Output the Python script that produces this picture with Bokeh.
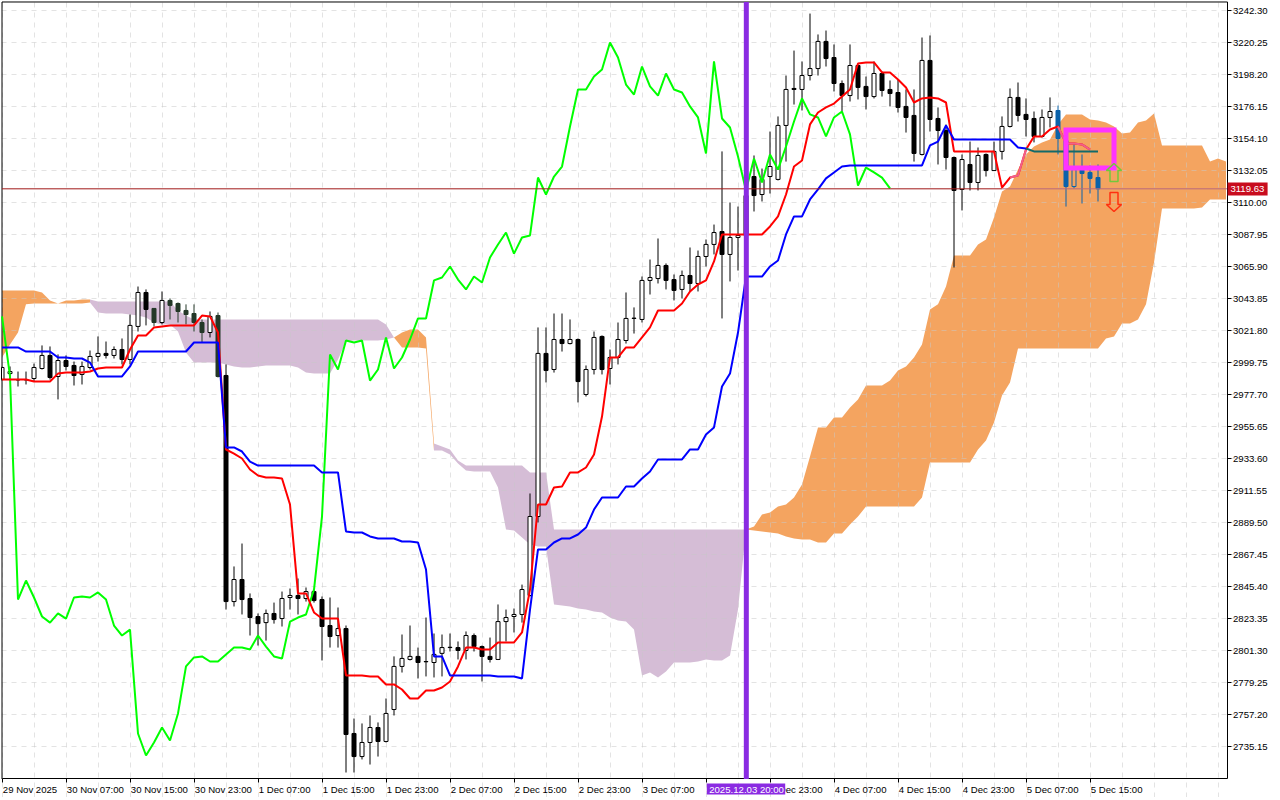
from bokeh.plotting import figure
from bokeh.models import Range1d, FixedTicker, NumeralTickFormatter
from bokeh.core.properties import value
from bokeh.embed import file_html
from bokeh.resources import INLINE

opens = [
2988.2,2992.3,2988.2,2988.2,2988.9,2995.8,3004.8,2990.3,3001.3,2997.9,
2991.7,2996.5,3004.1,3006.2,3004.8,3008.9,3002.0,3024.8,3048.2,3037.2,
3027.5,3042.7,3040.6,3035.8,3033.7,3027.5,3020.6,3032.3,2991.0,2835.2,
2850.4,2837.3,2824.9,2820.7,2827.0,2823.5,2838.0,2839.4,2837.3,2842.1,
2836.6,2818.7,2811.8,2816.6,2744.3,2728.4,2738.1,2748.4,2738.8,2760.8,
2790.5,2795.3,2797.4,2793.9,2793.2,2799.5,2803.5,2803.5,2801.5,2811.8,
2804.2,2797.4,2795.3,2821.4,2824.9,2826.3,2839.4,2893.8,3006.2,2995.1,
3015.8,3013.0,3015.8,2977.9,2995.1,3017.9,2995.8,3003.4,3015.1,3030.3,
3029.6,3056.5,3057.8,3066.8,3057.1,3050.3,3059.9,3054.4,3073.0,3081.3,
3090.2,3074.4,3086.1,3087.5,3128.1,3115.7,3128.1,3126.1,3163.3,3188.8,
3188.1,3197.7,3202.5,3221.2,3210.1,3192.2,3183.9,3204.6,3190.2,3183.2,
3199.1,3188.1,3186.0,3176.4,3170.2,3143.3,3208.1,3168.1,3159.8,3141.2,
3119.2,3136.4,3124.0,3143.3,3132.2,3145.4,3162.6,3182.6,3170.9,3168.1,
3155.7,3168.8,3173.6,3152.9,3121.2,3132.9,3130.9,3127.4]

closes = [
2996.5,2993.7,2987.9,2988.0,2996.5,3004.8,2989.6,3001.3,2997.2,2991.0,
2997.2,3004.1,3006.2,3004.8,3008.9,3002.0,3025.5,3048.2,3036.5,3027.5,
3042.7,3039.3,3035.1,3033.0,3027.5,3020.6,3031.7,2990.3,2835.2,2850.4,
2836.6,2824.2,2820.0,2827.0,2822.8,2837.3,2839.4,2837.3,2842.1,2835.9,
2818.0,2811.1,2816.6,2743.6,2728.4,2738.1,2748.4,2738.8,2758.1,2790.5,
2796.0,2797.4,2793.2,2793.7,2798.8,2803.5,2803.7,2801.5,2811.8,2804.2,
2797.4,2795.3,2821.4,2824.2,2826.3,2843.5,2893.8,3006.2,2994.4,3015.8,
3013.0,3015.8,2986.8,2995.1,3017.2,2995.1,3003.4,3015.8,3030.3,3030.5,
3056.5,3058.5,3066.8,3056.5,3049.6,3059.9,3054.4,3073.0,3081.3,3089.5,
3074.4,3086.1,3087.5,3115.0,3115.0,3126.1,3135.0,3163.3,3188.1,3188.1,
3197.7,3202.5,3221.2,3209.4,3192.2,3183.9,3204.6,3189.5,3183.2,3199.1,
3187.4,3185.3,3175.7,3168.8,3144.0,3208.1,3167.4,3159.8,3141.2,3118.5,
3139.8,3124.0,3142.6,3132.2,3145.4,3162.6,3182.6,3170.2,3167.4,3155.7,
3168.8,3172.9,3154.3,3121.2,3132.9,3130.2,3126.8,3119.63]

highs = [
2997.0,2997.2,2993.7,2993.7,2999.2,3011.7,3011.0,3005.5,3004.8,3000.6,
3000.6,3008.2,3017.9,3014.4,3011.0,3016.5,3033.0,3052.3,3050.3,3037.4,
3048.9,3044.1,3041.3,3040.0,3040.0,3029.6,3035.1,3034.4,2998.6,2859.4,
2875.2,2840.8,2827.0,2829.7,2834.5,2842.1,2844.2,2851.1,2844.9,2843.5,
2838.7,2838.0,2831.1,2818.7,2754.6,2751.2,2756.7,2751.9,2768.4,2797.4,
2812.5,2818.7,2803.5,2824.2,2813.2,2812.5,2813.2,2807.7,2814.6,2813.2,
2804.9,2810.4,2833.2,2829.7,2830.4,2846.9,2909.7,3024.1,3024.1,3033.7,
3033.7,3029.6,3016.5,2997.9,3021.3,3018.6,3008.9,3027.5,3048.2,3037.9,
3059.2,3070.9,3085.4,3068.2,3060.6,3063.3,3079.2,3077.1,3084.7,3095.0,
3145.4,3110.2,3107.4,3119.2,3142.6,3133.6,3159.1,3169.5,3197.7,3214.9,
3207.4,3240.4,3226.0,3228.7,3219.1,3194.3,3219.1,3205.3,3197.0,3207.4,
3200.5,3194.3,3195.0,3188.1,3188.1,3223.9,3225.3,3175.7,3164.0,3141.9,
3143.3,3152.2,3148.1,3144.0,3152.2,3169.5,3188.8,3192.9,3181.9,3172.9,
3174.3,3182.6,3177.0,3155.0,3150.2,3143.3,3135.7,3136.4]

lows = [
2987.5,2988.2,2983.4,2984.8,2986.8,2995.1,2988.2,2974.5,2994.4,2984.1,
2984.8,2995.1,3000.6,3002.7,3002.7,2998.6,2998.6,3021.3,3025.5,3024.8,
3026.2,3029.6,3027.5,3026.2,3021.3,3013.7,3017.2,2989.6,2829.7,2831.8,
2826.3,2811.8,2804.9,2808.3,2820.0,2818.0,2829.7,2826.3,2835.2,2834.5,
2794.6,2803.5,2803.5,2717.4,2717.4,2726.4,2722.9,2728.4,2738.1,2756.7,
2786.3,2794.6,2782.2,2783.6,2782.9,2783.6,2800.8,2795.3,2795.3,2800.8,
2780.1,2793.2,2794.9,2807.7,2813.9,2820.7,2838.7,2889.7,2986.2,2993.0,
3007.5,3012.4,2972.4,2976.5,2991.7,2991.7,2984.8,2998.6,3013.0,3019.9,
3027.5,3046.8,3054.4,3050.3,3042.7,3044.1,3048.9,3048.9,3066.1,3074.4,
3030.3,3055.8,3063.3,3084.7,3104.0,3110.9,3116.4,3125.4,3138.4,3177.7,
3173.6,3194.3,3197.7,3203.9,3186.7,3172.9,3179.8,3181.2,3174.3,3181.9,
3183.2,3176.4,3172.2,3158.4,3138.4,3142.6,3159.1,3136.4,3132.9,3065.4,
3104.7,3118.5,3118.5,3128.1,3131.9,3139.8,3161.9,3166.0,3155.7,3151.6,
3155.0,3161.9,3143.3,3107.4,3119.9,3109.5,3116.4,3110.9]

tenkan = [
2988.2,2988.2,2988.2,2988.2,2986.8,2986.8,2986.8,2992.3,2993.0,2993.0,
2993.0,2993.7,2995.8,2996.5,2996.5,2996.5,3008.9,3018.6,3018.6,3024.1,
3024.8,3025.5,3025.5,3025.5,3025.5,3032.3,3031.7,3020.6,2940.0,2937.2,
2933.8,2926.2,2922.1,2920.7,2920.7,2920.0,2902.1,2840.8,2840.8,2827.7,
2823.5,2823.5,2823.5,2784.3,2784.3,2784.3,2783.6,2783.6,2778.1,2778.1,
2774.6,2768.4,2768.4,2773.9,2773.9,2776.0,2780.1,2790.5,2803.5,2803.5,
2802.2,2802.2,2807.0,2807.0,2807.0,2813.9,2843.5,2902.1,2902.1,2913.8,
2914.5,2924.2,2924.2,2927.6,2936.5,2962.7,3003.4,3003.4,3010.3,3010.3,
3017.2,3024.1,3035.8,3035.8,3035.8,3040.6,3048.9,3053.7,3056.5,3069.6,
3088.2,3088.2,3088.2,3088.2,3088.2,3088.2,3093.7,3100.6,3115.7,3135.0,
3139.1,3164.0,3172.2,3175.7,3178.4,3183.2,3188.1,3206.0,3206.7,3206.7,
3199.8,3199.8,3195.0,3189.5,3179.1,3181.9,3182.6,3181.9,3179.1,3145.4,
3145.4,3145.4,3145.4,3145.4,3145.4,3120.5,3127.4,3128.8,3146.7,3155.7,
3155.7,3160.5,3162.6,3150.9,3150.9,3150.2,3146.7]

kijun = [
3010.3,3010.3,3010.3,3007.5,3007.5,3007.5,3007.5,3003.4,3003.4,3002.7,
3002.7,2999.9,2990.3,2990.3,2990.3,2990.3,2997.2,3007.5,3007.5,3007.5,
3007.5,3007.5,3007.5,3007.5,3013.7,3013.7,3013.7,3013.7,2941.4,2941.4,
2938.6,2931.7,2928.9,2928.9,2928.9,2928.9,2928.9,2928.9,2928.9,2928.9,
2924.2,2924.2,2924.2,2883.5,2882.8,2882.8,2880.1,2878.7,2878.7,2878.7,
2876.6,2876.6,2875.9,2857.3,2797.4,2797.4,2784.3,2784.3,2784.3,2784.3,
2784.3,2784.3,2783.6,2783.6,2783.6,2782.2,2829.7,2871.1,2871.1,2875.9,
2878.7,2878.7,2881.4,2886.2,2898.6,2906.9,2906.9,2906.9,2914.5,2914.5,
2920.0,2924.8,2933.1,2933.1,2933.1,2933.1,2940.0,2940.0,2950.3,2955.2,
2983.4,2992.3,3020.6,3059.2,3059.2,3059.2,3066.1,3070.2,3088.2,3100.6,
3100.6,3112.3,3119.2,3126.8,3130.9,3135.0,3135.7,3135.7,3135.7,3135.7,
3135.7,3135.7,3135.7,3135.7,3135.7,3135.7,3149.5,3152.2,3163.3,3153.6,
3153.6,3153.6,3153.6,3153.6,3153.6,3153.6,3153.6,3148.1,3147.4,3145.4,
3145.4,3145.4,3145.4,3145.4,3145.4,3145.4,3145.4,3145.4]

chikou = [
3031.7,2990.3,2836.6,2849.7,2838.0,2824.9,2820.7,2827.0,2823.5,2838.0,
2838.7,2838.0,2841.5,2836.6,2818.7,2811.8,2815.9,2744.3,2729.1,2738.1,
2748.4,2739.4,2758.1,2790.5,2796.7,2797.4,2793.9,2793.9,2798.8,2803.5,
2803.5,2802.2,2811.8,2804.2,2797.4,2796.0,2821.4,2824.2,2826.3,2843.5,
2893.8,3005.5,2995.1,3015.1,3013.7,3015.1,2987.5,2995.1,3017.2,2995.8,
3003.4,3015.8,3030.3,3030.3,3056.5,3058.5,3066.1,3057.1,3050.3,3059.2,
3055.1,3072.3,3081.3,3089.5,3075.0,3086.1,3087.5,3127.4,3115.7,3128.1,
3135.0,3162.6,3188.1,3188.1,3197.0,3201.9,3220.5,3210.1,3191.5,3184.6,
3203.9,3190.2,3183.9,3199.1,3188.1,3186.0,3176.4,3168.8,3144.0,3207.4,
3168.1,3161.9,3141.9,3118.5,3140.5,3124.0,3143.3,3132.9,3148.8,3166.0,
3181.9,3170.9,3168.8,3155.7,3168.8,3172.9,3157.1,3121.9,3134.3,3130.9,
3127.4,3119.9]

cloud_upper = [
3049.6,3049.6,3049.6,3049.6,3049.6,3048.2,3042.7,3040.6,3042.7,3042.7,
3043.4,3043.4,3042.0,3042.0,3042.0,3042.0,3042.0,3042.0,3042.0,3042.0,
3042.0,3042.0,3035.8,3032.3,3029.6,3029.6,3029.6,3029.6,3029.6,3029.6,
3029.6,3029.6,3029.6,3029.6,3029.6,3029.6,3029.6,3029.6,3029.6,3029.6,
3029.6,3029.6,3029.6,3029.6,3029.6,3029.6,3029.6,3029.6,3026.2,3017.2,
3020.6,3022.7,3022.7,3017.2,2944.1,2942.1,2940.0,2932.4,2928.9,2928.9,
2928.9,2928.9,2928.9,2928.9,2928.9,2928.9,2924.2,2924.2,2924.2,2884.9,
2884.9,2884.9,2884.9,2884.9,2884.9,2884.9,2884.9,2884.9,2884.9,2884.9,
2884.9,2884.9,2884.9,2884.9,2884.9,2884.9,2884.9,2884.9,2884.9,2884.9,
2884.9,2884.9,2884.9,2884.9,2886.9,2895.2,2896.6,2900.7,2902.1,2906.9,
2915.9,2935.2,2955.2,2955.2,2962.1,2962.1,2968.9,2974.5,2984.1,2984.1,
2984.1,2987.5,2994.4,2997.2,3003.4,3012.4,3036.5,3040.0,3052.3,3073.7,
3073.7,3073.7,3081.3,3084.7,3099.9,3117.8,3121.2,3132.9,3143.3,3148.8,
3151.6,3153.6,3164.0,3170.9,3170.9,3170.9,3167.4,3166.7,3165.3,3162.6,
3157.8,3158.5,3165.3,3166.7,3171.5,3149.5,3149.5,3149.5,3149.5,3149.5,
3149.5,3138.5,3140.5,3138.5]

cloud_lower = [
3003.4,3012.4,3020.6,3040.0,3040.6,3040.6,3040.6,3040.6,3040.6,3040.6,
3040.6,3041.3,3034.4,3033.7,3033.7,3033.7,3033.0,3032.3,3030.9,3027.5,
3026.2,3026.2,3021.3,3006.9,2999.9,2999.9,2999.9,2999.9,2998.6,2997.2,
2996.5,2996.5,2997.2,2997.9,2997.9,2997.9,2997.9,2996.5,2993.0,2992.3,
2992.3,2992.3,3002.0,3014.4,3015.1,3015.1,3015.1,3015.1,3015.8,3017.2,
3010.3,3010.3,3010.3,3009.6,2939.3,2939.3,2936.5,2930.3,2925.5,2924.8,
2924.8,2924.8,2913.8,2884.9,2884.2,2879.4,2874.5,2873.2,2873.2,2833.2,
2832.5,2831.8,2830.4,2829.7,2828.4,2827.7,2824.2,2822.1,2821.4,2815.9,
2784.3,2786.3,2782.9,2787.0,2793.2,2793.2,2793.2,2793.9,2795.3,2794.6,
2794.6,2798.1,2829.7,2884.9,2884.2,2883.5,2882.8,2882.1,2880.1,2878.7,
2878.0,2878.0,2875.9,2875.9,2882.1,2882.1,2888.3,2893.8,2900.7,2900.7,
2900.7,2900.7,2900.7,2900.7,2900.7,2906.9,2931.0,2931.0,2931.0,2931.0,
2931.0,2931.0,2940.0,2946.2,2958.6,2977.2,2986.2,3009.6,3009.6,3009.6,
3009.6,3009.6,3009.6,3009.6,3009.6,3009.6,3009.6,3009.6,3016.5,3017.9,
3026.8,3026.8,3029.6,3040.0,3068.8,3106.1,3106.1,3106.1,3106.1,3106.1,
3106.8,3112.3,3112.3,3112.3]

price_ticks = [3242.30,3220.25,3198.20,3176.15,3154.10,3132.05,3110.00,3087.95,
               3065.90,3043.85,3021.80,2999.75,2977.70,2955.65,2933.60,2911.55,
               2889.50,2867.45,2845.40,2823.35,2801.30,2779.25,2757.20,2735.15]
time_labels = ["29 Nov 2025","30 Nov 07:00","30 Nov 15:00","30 Nov 23:00","1 Dec 07:00",
               "1 Dec 15:00","1 Dec 23:00","2 Dec 07:00","2 Dec 15:00","2 Dec 23:00",
               "3 Dec 07:00","3 Dec 15:00","3 Dec 23:00","4 Dec 07:00","4 Dec 15:00",
               "4 Dec 23:00","5 Dec 07:00","5 Dec 15:00"]
last_price = 3119.63
signal_time = "2025.12.03 20:00"
signal_bar = 93.04
box_bars = (133.0, 139.0)
box_prices = (3133.9, 3160.1)
up_arrow_prices = (3137.1, 3132.2, 3124.7)
down_arrow_prices = (3117.1, 3108.8, 3104.0)
arrow_bar = 139

assert len(opens)==len(closes)==len(highs)==len(lows)==138
assert len(tenkan)==137 and len(kijun)==138 and len(chikou)==112
assert len(cloud_upper)==len(cloud_lower)==154

# The plotting frame covers the whole page; the axes sit at fixed places inside it,
# so the margin tags and the time labels can be drawn next to the chart.
X_LEFT, X_AXIS = 0, 153.125
Y_TOP, Y_AXIS = 3248.37, 2712.93
LABEL_ROW = 2706.0
p = figure(frame_width=1270, frame_height=796, output_backend="svg", toolbar_location=None,
           x_range=Range1d(-0.0625, 158.6875), y_range=Range1d(2700.18, 3248.71),
           y_axis_location="right", min_border_left=2, min_border_top=2,
           min_border_right=0, min_border_bottom=0, background_fill_color="white")
p.margin = (-1, 0, 0, -1)
p.outline_line_color = None

FONT = "Liberation Sans"
FS = "9.6px"
TOP = "annotation"
yax = p.yaxis[0]
yax.ticker = FixedTicker(ticks=price_ticks)
yax.formatter = NumeralTickFormatter(format="0.00")
yax.fixed_location = X_AXIS
yax.bounds = (Y_AXIS, Y_TOP)
xax = p.xaxis[0]
tick_bars = list(range(0, 137, 8))
xax.ticker = FixedTicker(ticks=tick_bars)
xax.fixed_location = Y_AXIS
xax.bounds = (X_LEFT, X_AXIS)
xax.major_label_text_color = None
for ax in (xax, yax):
    ax.major_tick_in = 0
    ax.major_tick_out = 4
    ax.minor_tick_in = 0
    ax.minor_tick_out = 0
    ax.major_tick_line_color = "black"
    ax.axis_line_color = "black"
    ax.major_label_text_font = FONT
    ax.major_label_text_font_size = FS
    ax.major_label_standoff = 2
yax.major_label_text_color = "black"

p.xgrid[0].ticker = FixedTicker(ticks=list(range(0, 154, 4)))
p.xgrid[0].bounds = (Y_AXIS, Y_TOP)
p.ygrid[0].ticker = FixedTicker(ticks=price_ticks)
p.ygrid[0].bounds = (X_LEFT, X_AXIS)
for g in (p.xgrid[0], p.ygrid[0]):
    g.grid_line_color = "#c8c8c8"
    g.grid_line_alpha = 0.5
    g.grid_line_dash = [5, 5]
    g.level = "glyph"

ORANGE, PURPLE = "#f4a460", "#d5bdd6"
for a, b, col in ((0, 11, ORANGE), (11, 49, PURPLE), (49, 54, ORANGE), (54, 93, PURPLE), (93, 153, ORANGE)):
    rng = list(range(a, b + 1))
    p.varea(rng, cloud_lower[a:b + 1], cloud_upper[a:b + 1], fill_color=col, level="underlay")

# chart border
p.segment([X_LEFT, X_LEFT], [Y_AXIS, Y_TOP], [X_LEFT, X_AXIS], [Y_TOP, Y_TOP], line_color="black", line_width=1, level=TOP)

# candles
bars = list(range(len(opens)))
def tone(k):
    up = closes[k] >= opens[k]
    if k >= 132:
        return ("#0a62aa", ORANGE if up else "#0a62aa")
    if 19 <= k <= 27 and not up:
        return ("#243828", "#243828")
    return ("black", "white" if up else "black")
edge = [tone(k)[0] for k in bars]
fill = [tone(k)[1] for k in bars]
p.segment(bars, lows, bars, highs, line_color=edge, line_width=1, level=TOP)
p.vbar(bars, 0.5, opens, closes, fill_color=fill, line_color=edge, line_width=1, level=TOP)

# ichimoku lines
p.line(list(range(len(chikou))), chikou, line_color="#00ff00", line_width=2, level=TOP)
p.line(list(range(len(tenkan))), tenkan, line_color="#ff0000", line_width=2, level=TOP)
p.line(list(range(126, 129)), tenkan[126:129], line_color="#f0608a", line_width=2, level=TOP)
p.line(list(range(132, 137)), tenkan[132:137], line_color="#f0608a", line_width=2, level=TOP)
p.line(list(range(129)), kijun[:129], line_color="#0000ff", line_width=2, level=TOP)
p.line(list(range(128, 138)), kijun[128:], line_color="#126a6a", line_width=2, level=TOP)

# last price
p.segment([X_LEFT], [last_price], [125], [last_price], line_color="#a01818", line_width=1, level=TOP)
p.segment([125], [last_price], [X_AXIS], [last_price], line_color="#b86a7c", line_width=1, level=TOP)

# rectangle and arrows
p.quad(left=box_bars[0], right=box_bars[1], bottom=box_prices[0], top=box_prices[1],
       fill_color=None, line_color="#ff33ff", line_width=5, line_join="miter", level=TOP)
au, su, bu = up_arrow_prices
p.patch([arrow_bar, arrow_bar + 0.95, arrow_bar + 0.5, arrow_bar + 0.5, arrow_bar - 0.5, arrow_bar - 0.5, arrow_bar - 0.95, arrow_bar],
        [au, su, su, bu, bu, su, su, au], fill_color=None, line_color="#72c83c", line_width=1.5, level=TOP)
td, sd, ad = down_arrow_prices
p.patch([arrow_bar - 0.5, arrow_bar + 0.5, arrow_bar + 0.5, arrow_bar + 0.95, arrow_bar, arrow_bar - 0.95, arrow_bar - 0.5, arrow_bar - 0.5],
        [td, td, sd, sd, ad, sd, sd, td], fill_color=None, line_color="#ff3010", line_width=1.5, level=TOP)

# vertical marker
p.segment([signal_bar], [Y_AXIS], [signal_bar], [Y_TOP], line_color="#8a2be2", line_width=5, level=TOP)

# time labels, left-aligned on their ticks
text_style = dict(text_font=value(FONT), text_font_size=value(FS), text_baseline="middle", text_align="left", level=TOP)
p.text([b + 0.1 for b in tick_bars], [LABEL_ROW] * len(tick_bars), text=time_labels, text_color="black", **text_style)

# tags
p.quad(left=153.2, right=158.2, top=3124.0, bottom=3115.0, fill_color="#c80c1e", line_color=None, level=TOP)
p.text([153.55], [last_price], text=[f"{last_price:.2f}"], text_color="white", **text_style)
p.quad(left=88.1, right=97.9, top=2709.8, bottom=2702.2, fill_color="#8a2be2", line_color=None, level=TOP)
p.text([88.4], [LABEL_ROW], text=[signal_time], text_color="white", **text_style)

open("out.html", "w").write(file_html(p, INLINE))
